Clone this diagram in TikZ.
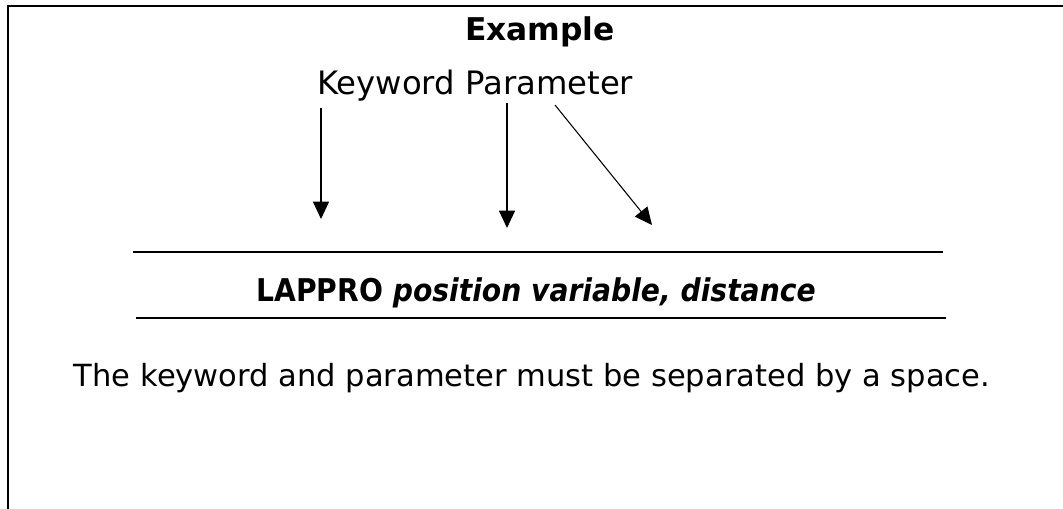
\documentclass[tikz,border=0pt]{standalone}
\usepackage{fontspec}
\setmainfont{DejaVu Sans}
\newfontfamily\condfont{DejaVu Sans Condensed}
\usetikzlibrary{arrows.meta}
\begin{document}
\begin{tikzpicture}[x=0.75pt,y=-0.75pt,
  txt/.style={inner sep=0pt, font=\fontsize{23.5}{28}\selectfont},
  frameline/.style={line width=1.5pt},
  rule/.style={line width=1.3pt},
  arr/.style={line width=0.8pt, -{Triangle[length=13pt,width=12pt]}}]
\useasboundingbox (0,0) rectangle (1063,509);
% frame
\draw[frameline] (8,509) -- (8,6) -- (1063,6);
% texts
\node[txt, anchor=base] (ex) at (540,41) {\textbf{Example}};
\node[txt, font=\fontsize{24.2}{29}\selectfont, anchor=base west] (kp) at (317,95) {Keyword Parameter};
\node[txt, font=\condfont\fontsize{23.5}{28}\selectfont, anchor=base] (cmd) at (536,302) {\textbf{LAPPRO \textit{position variable, distance}}};
\node[txt, font=\fontsize{22.9}{28}\selectfont, anchor=base] (note) at (532,387) {The keyword and parameter must be separated by a space.};
% arrows
\coordinate (a1s) at (321,108); \coordinate (a1e) at (321,219);
\coordinate (a2s) at (507,103); \coordinate (a2e) at (507,228);
\coordinate (a3s) at (555,105); \coordinate (a3e) at (652,225);
\draw[arr] (a1s) -- (a1e);
\draw[arr] (a2s) -- (a2e);
\draw[arr] (a3s) -- (a3e);
% rules
\coordinate (r1a) at (133,252); \coordinate (r1b) at (943,252);
\coordinate (r2a) at (136,318); \coordinate (r2b) at (946,318);
\draw[rule] (r1a) -- (r1b);
\draw[rule] (r2a) -- (r2b);
\end{tikzpicture}
\end{document}
